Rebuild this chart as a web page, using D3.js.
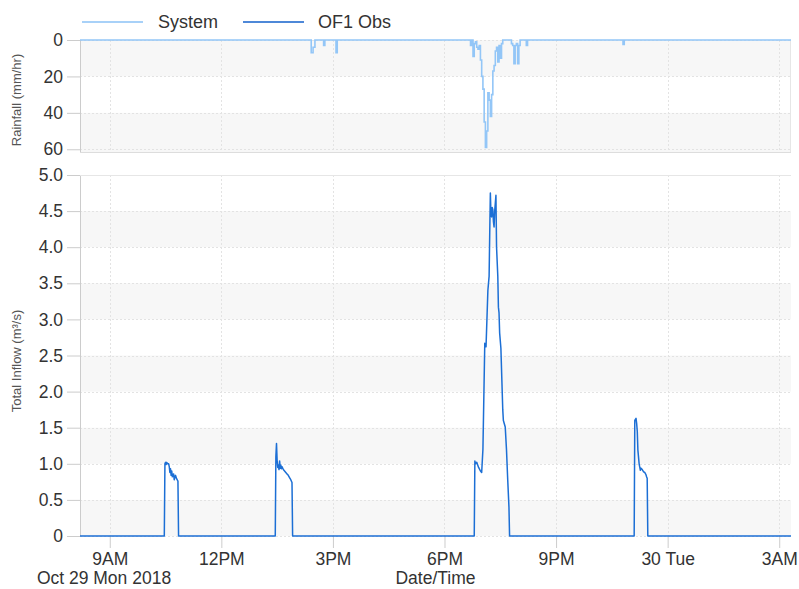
<!DOCTYPE html>
<html>
<head>
<meta charset="utf-8">
<script src="https://cdn.jsdelivr.net/npm/d3@7"></script>
<style>
  html, body { margin: 0; padding: 0; background: #fff; }
  svg { display: block; font-family: "Liberation Sans", Arial, sans-serif; }
</style>
</head>
<body>
<svg id="chart" width="799" height="589"></svg>
<script>
// ---------------- DATA ----------------
const xDomainTimes = ["2018-10-29 08:12", "2018-10-30 03:19"];
const xTickTimes = ["2018-10-29 09:00", "2018-10-29 12:00", "2018-10-29 15:00", "2018-10-29 18:00",
                    "2018-10-29 21:00", "2018-10-30 00:00", "2018-10-30 03:00"];
const rainTicks = [0, 20, 40, 60];
const flowTicks = [0, 0.5, 1.0, 1.5, 2.0, 2.5, 3.0, 3.5, 4.0, 4.5, 5.0];
const seriesNames = ["System", "OF1 Obs"];

// Rainfall (mm/hr), change points (step series)
const rainTimes = [
  "2018-10-29 08:12", "2018-10-29 14:25", "2018-10-29 14:28", "2018-10-29 14:31", "2018-10-29 14:45",
  "2018-10-29 14:47", "2018-10-29 15:05", "2018-10-29 15:07",
  "2018-10-29 18:40", "2018-10-29 18:42", "2018-10-29 18:44", "2018-10-29 18:46", "2018-10-29 18:48",
  "2018-10-29 18:50", "2018-10-29 18:52", "2018-10-29 18:54", "2018-10-29 18:56", "2018-10-29 18:58",
  "2018-10-29 19:00", "2018-10-29 19:02", "2018-10-29 19:04", "2018-10-29 19:06", "2018-10-29 19:08",
  "2018-10-29 19:10", "2018-10-29 19:12", "2018-10-29 19:14", "2018-10-29 19:16", "2018-10-29 19:18",
  "2018-10-29 19:20", "2018-10-29 19:22", "2018-10-29 19:24", "2018-10-29 19:26", "2018-10-29 19:28",
  "2018-10-29 19:30", "2018-10-29 19:32", "2018-10-29 19:34", "2018-10-29 19:48", "2018-10-29 19:50",
  "2018-10-29 19:52", "2018-10-29 19:54", "2018-10-29 19:56", "2018-10-29 19:58", "2018-10-29 20:00",
  "2018-10-29 20:02", "2018-10-29 20:12", "2018-10-29 20:14", "2018-10-29 22:48", "2018-10-29 22:50",
  "2018-10-30 03:19"
];
const rainValues = [
  0, 7, 4, 0, 3,
  0, 7, 0,
  0, 3, 0, 9, 2,
  1, 4, 5, 3, 11,
  20, 27, 45, 59, 50,
  29, 33, 42, 30, 17,
  14, 6, 4, 12, 3,
  10, 2, 0, 2, 3,
  13, 3, 2, 13, 3,
  0, 3, 0, 2.5, 0,
  0
];

// Total inflow (m3/s), OF1 Obs
const flowTimes = [
  "2018-10-29 08:12", "2018-10-29 10:28", "2018-10-29 10:29", "2018-10-29 10:30", "2018-10-29 10:31",
  "2018-10-29 10:32", "2018-10-29 10:33", "2018-10-29 10:35", "2018-10-29 10:36", "2018-10-29 10:37",
  "2018-10-29 10:38", "2018-10-29 10:39", "2018-10-29 10:40", "2018-10-29 10:41", "2018-10-29 10:43",
  "2018-10-29 10:44", "2018-10-29 10:46", "2018-10-29 10:48", "2018-10-29 10:50", "2018-10-29 10:51",
  "2018-10-29 13:27", "2018-10-29 13:28", "2018-10-29 13:29", "2018-10-29 13:30", "2018-10-29 13:31",
  "2018-10-29 13:32", "2018-10-29 13:33", "2018-10-29 13:34", "2018-10-29 13:35", "2018-10-29 13:36",
  "2018-10-29 13:37", "2018-10-29 13:38", "2018-10-29 13:40", "2018-10-29 13:42", "2018-10-29 13:44",
  "2018-10-29 13:46", "2018-10-29 13:48", "2018-10-29 13:50", "2018-10-29 13:52", "2018-10-29 13:54",
  "2018-10-29 13:55",
  "2018-10-29 18:48", "2018-10-29 18:49", "2018-10-29 18:50", "2018-10-29 18:52", "2018-10-29 18:55",
  "2018-10-29 18:58", "2018-10-29 19:00", "2018-10-29 19:02", "2018-10-29 19:05", "2018-10-29 19:07",
  "2018-10-29 19:10", "2018-10-29 19:12", "2018-10-29 19:13", "2018-10-29 19:14", "2018-10-29 19:15",
  "2018-10-29 19:16", "2018-10-29 19:17", "2018-10-29 19:18", "2018-10-29 19:19", "2018-10-29 19:20",
  "2018-10-29 19:21", "2018-10-29 19:23", "2018-10-29 19:24", "2018-10-29 19:26", "2018-10-29 19:27",
  "2018-10-29 19:28", "2018-10-29 19:29", "2018-10-29 19:31", "2018-10-29 19:34", "2018-10-29 19:35",
  "2018-10-29 19:38", "2018-10-29 19:40", "2018-10-29 19:42", "2018-10-29 19:44", "2018-10-29 19:45",
  "2018-10-29 23:06", "2018-10-29 23:07", "2018-10-29 23:09", "2018-10-29 23:10", "2018-10-29 23:11",
  "2018-10-29 23:12", "2018-10-29 23:14", "2018-10-29 23:16", "2018-10-29 23:17", "2018-10-29 23:19",
  "2018-10-29 23:21", "2018-10-29 23:23", "2018-10-29 23:25", "2018-10-29 23:26", "2018-10-29 23:27",
  "2018-10-29 23:28", "2018-10-30 03:19"
];
const flowValues = [
  0, 0, 1.0, 1.02, 0.99,
  1.02, 1.0, 1.0, 0.96, 0.88,
  0.93, 0.84, 0.90, 0.82, 0.86,
  0.78, 0.84, 0.79, 0.76, 0,
  0, 1.1, 1.28, 1.05, 0.95,
  0.98, 0.92, 1.04, 0.94, 0.98,
  0.93, 0.96, 0.92, 0.90, 0.88,
  0.86, 0.84, 0.81, 0.78, 0.74,
  0,
  0, 1.04, 1.0, 1.02, 0.95,
  0.90, 0.88, 1.2, 2.67, 2.62,
  3.4, 3.6, 4.2, 4.75, 4.45,
  4.42, 4.55, 4.52, 4.35, 4.28,
  4.5, 4.72, 4.0, 3.6, 3.17,
  3.09, 2.81, 2.6, 1.75, 1.6,
  1.51, 1.2, 0.78, 0.4, 0,
  0, 1.6, 1.63, 1.56, 1.45,
  1.19, 1.0, 0.91, 0.94, 0.92,
  0.89, 0.88, 0.85, 0.82, 0.80,
  0, 0
];

// ---------------- CHART ----------------
const parse = d3.timeParse("%Y-%m-%d %H:%M");
const svg = d3.select("#chart");

const left = 80, right = 791;
const rainTop = 40, rainBottom = 152;
const flowTop = 175, flowBottom = 536;

const x = d3.scaleTime().domain(xDomainTimes.map(parse)).range([left, right]);
const yRain = d3.scaleLinear().domain([0, 61.5]).range([rainTop, rainBottom]);
const yFlow = d3.scaleLinear().domain([0, 5]).range([flowBottom, flowTop]);

const bandFill = "#f7f7f7";
const gridColor = "#e3e3e3";
const axisColor = "#cccccc";
const textColor = "#333333";
const rainColor = "#93c6f7";
const flowColor = "#1c6fd5";
const tickFont = 17.5;

// ---- rainfall panel bands ----
const rainBands = [[0, 20], [40, 61.5]];
svg.append("g").selectAll("rect").data(rainBands).join("rect")
  .attr("x", left).attr("width", right - left)
  .attr("y", d => yRain(d[0])).attr("height", d => yRain(d[1]) - yRain(d[0]))
  .attr("fill", bandFill);

// ---- flow panel bands ----
const flowBands = [[0, 0.5], [1, 1.5], [2, 2.5], [3, 3.5], [4, 4.5]];
svg.append("g").selectAll("rect").data(flowBands).join("rect")
  .attr("x", left).attr("width", right - left)
  .attr("y", d => yFlow(d[1])).attr("height", d => yFlow(d[0]) - yFlow(d[1]))
  .attr("fill", bandFill);

// ---- grid lines ----
const xTicks = xTickTimes.map(parse);
const grid = svg.append("g").attr("stroke", gridColor).attr("stroke-dasharray", "2,2").attr("stroke-width", 1);
grid.selectAll(".vr").data(xTicks).join("line")
  .attr("x1", d => Math.round(x(d)) + 0.5).attr("x2", d => Math.round(x(d)) + 0.5)
  .attr("y1", rainTop).attr("y2", rainBottom);
grid.selectAll(".vf").data(xTicks).join("line")
  .attr("x1", d => Math.round(x(d)) + 0.5).attr("x2", d => Math.round(x(d)) + 0.5)
  .attr("y1", flowTop).attr("y2", flowBottom);
grid.selectAll(".hr").data(rainTicks).join("line")
  .attr("x1", left).attr("x2", right)
  .attr("y1", d => Math.round(yRain(d)) + 0.5).attr("y2", d => Math.round(yRain(d)) + 0.5);
grid.selectAll(".hf").data(flowTicks).join("line")
  .attr("x1", left).attr("x2", right)
  .attr("y1", d => Math.round(yFlow(d)) + 0.5).attr("y2", d => Math.round(yFlow(d)) + 0.5);

// ---- panel frames ----
const frame = svg.append("g").attr("stroke", axisColor).attr("fill", "none");
frame.append("line").attr("x1", left + 0.5).attr("x2", left + 0.5).attr("y1", rainTop).attr("y2", rainBottom);
frame.append("line").attr("x1", right - 0.5).attr("x2", right - 0.5).attr("y1", rainTop).attr("y2", rainBottom).attr("stroke", "#e6e6e6");
frame.append("line").attr("x1", left).attr("x2", right).attr("y1", rainBottom + 0.5).attr("y2", rainBottom + 0.5).attr("stroke", "#dddddd");
frame.append("line").attr("x1", left + 0.5).attr("x2", left + 0.5).attr("y1", flowTop).attr("y2", flowBottom);
frame.append("line").attr("x1", left).attr("x2", right).attr("y1", flowTop + 0.5).attr("y2", flowTop + 0.5).attr("stroke", "#e6e6e6");

// ---- y axes ----
function styleAxis(g) {
  g.select(".domain").remove();
  g.selectAll(".tick line").attr("stroke", axisColor);
  g.selectAll(".tick text").attr("fill", textColor).attr("font-size", tickFont)
    .attr("font-family", "'Liberation Sans', Arial, sans-serif");
}
svg.append("g").attr("transform", `translate(${left},0)`)
  .call(d3.axisLeft(yRain).tickValues(rainTicks).tickSize(13).tickPadding(4).tickFormat(d3.format("d")))
  .call(styleAxis);
svg.append("g").attr("transform", `translate(${left},0)`)
  .call(d3.axisLeft(yFlow).tickValues(flowTicks).tickSize(13).tickPadding(4)
    .tickFormat(d => d === 0 ? "0" : d3.format(".1f")(d)))
  .call(styleAxis);

// ---- x axis ----
const fmtTick = d => (d.getHours() === 0 ? d3.timeFormat("%-d %a")(d) : d3.timeFormat("%-I%p")(d));
svg.append("g").attr("transform", `translate(0,${flowBottom})`)
  .call(d3.axisBottom(x).tickValues(xTicks).tickSize(12).tickPadding(5).tickFormat(fmtTick))
  .call(styleAxis);

// ---- axis titles ----
svg.append("text").attr("transform", `translate(21,100) rotate(-90)`)
  .attr("text-anchor", "middle").attr("font-size", 13).attr("fill", "#555").text("Rainfall (mm/hr)");
svg.append("text").attr("transform", `translate(21,361) rotate(-90)`)
  .attr("text-anchor", "middle").attr("font-size", 13).attr("fill", "#555").text("Total Inflow (m³/s)");
svg.append("text").attr("x", 104).attr("y", 584).attr("text-anchor", "middle")
  .attr("font-size", tickFont).attr("fill", textColor).text("Oct 29 Mon 2018");
svg.append("text").attr("x", (left + right) / 2).attr("y", 584).attr("text-anchor", "middle")
  .attr("font-size", tickFont).attr("fill", textColor).text("Date/Time");

// ---- series ----
const rainData = rainTimes.map((t, i) => ({ t: parse(t), v: rainValues[i] }));
const flowData = flowTimes.map((t, i) => ({ t: parse(t), v: flowValues[i] }));

svg.append("path").datum(rainData)
  .attr("fill", "none").attr("stroke", rainColor).attr("stroke-width", 1.6)
  .attr("d", d3.line().x(d => x(d.t)).y(d => yRain(d.v)).curve(d3.curveStepAfter));

svg.append("path").datum(flowData)
  .attr("fill", "none").attr("stroke", flowColor).attr("stroke-width", 1.5).attr("stroke-linejoin", "round")
  .attr("d", d3.line().x(d => x(d.t)).y(d => yFlow(d.v)));

// ---- legend ----
const legendItems = [
  { name: seriesNames[0], color: "#a8d1f8", x: 82, tx: 158 },
  { name: seriesNames[1], color: "#4e88d8", x: 243, tx: 318 }
];
const lg = svg.append("g");
lg.selectAll("line").data(legendItems).join("line")
  .attr("x1", d => d.x).attr("x2", d => d.x + 61).attr("y1", 22).attr("y2", 22)
  .attr("stroke", d => d.color).attr("stroke-width", 2);
lg.selectAll("text").data(legendItems).join("text")
  .attr("x", d => d.tx).attr("y", 28).attr("font-size", 18).attr("fill", textColor).text(d => d.name);
</script>
</body>
</html>
